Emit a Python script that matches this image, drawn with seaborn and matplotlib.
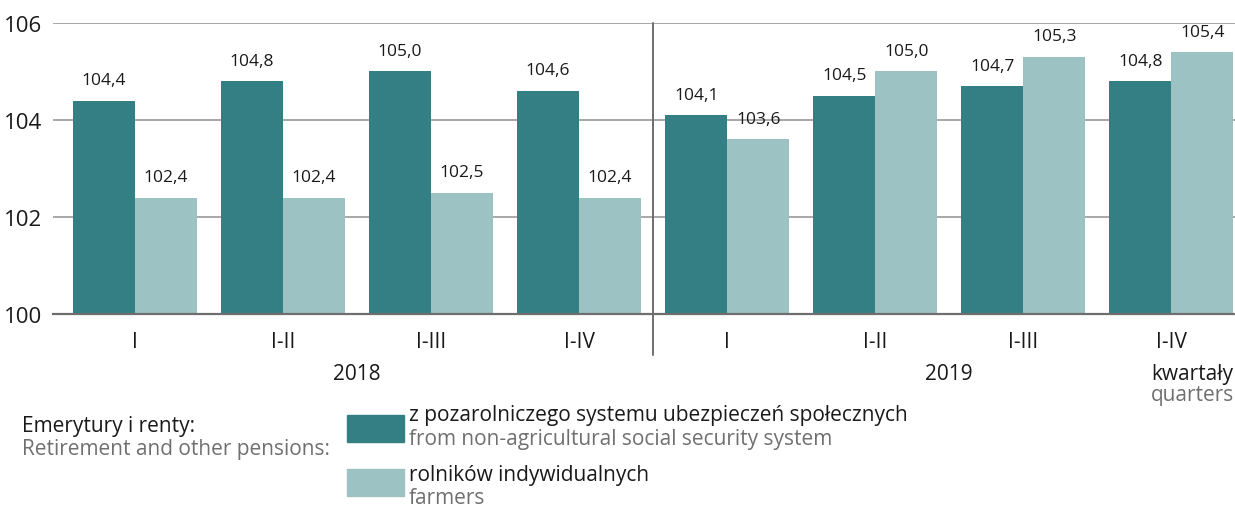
import matplotlib
matplotlib.use("Agg")
import matplotlib.pyplot as plt
import seaborn as sns
import pandas as pd
from matplotlib.patches import Rectangle

# Pension indices, corresponding period of previous year = 100
quarters = ["I", "I-II", "I-III", "I-IV", "I ", "I-II ", "I-III ", "I-IV "]
tick_labels = ["I", "I-II", "I-III", "I-IV", "I", "I-II", "I-III", "I-IV"]
years = ["2018", "2019"]
non_agricultural = [104.4, 104.8, 105.0, 104.6, 104.1, 104.5, 104.7, 104.8]
farmers = [102.4, 102.4, 102.5, 102.4, 103.6, 105.0, 105.3, 105.4]
series_pl = ["z pozarolniczego systemu ubezpieczeń społecznych", "rolników indywidualnych"]
series_en = ["from non-agricultural social security system", "farmers"]

DARK = "#347f83"
LIGHT = "#9cc2c3"
GRID = "#9a9a9a"
TEXT = "#1a1a1a"
SUB = "#707070"
FS = 15

sns.set_theme(style="white")
plt.rcParams["font.family"] = ["Open Sans", "DejaVu Sans"]

df = pd.DataFrame({
    "okres": quarters * 2,
    "wartosc": non_agricultural + farmers,
    "seria": [series_pl[0]] * len(quarters) + [series_pl[1]] * len(quarters),
})

fig = plt.figure(figsize=(12.35, 5.10), dpi=100)
ax = fig.add_axes([0.0429, 0.3824, 0.9571, 0.5706])

sns.barplot(data=df, x="okres", y="wartosc", hue="seria", order=quarters,
            hue_order=series_pl, palette=[DARK, LIGHT], width=0.838, gap=0,
            saturation=1, errorbar=None, legend=False, ax=ax, zorder=3,
            linewidth=0)

ax.set_ylim(100, 106)
ax.set_xlim(-0.554, 7.43)
ax.set_yticks([100, 102, 104, 106])
ax.set_yticklabels(["100", "102", "104", "106"])
ax.set_xticks(range(len(quarters)))
ax.set_xticklabels(tick_labels)
ax.set_xlabel("")
ax.set_ylabel("")

for y in [102, 104, 106]:
    ax.axhline(y, color=GRID, lw=1.2, zorder=1)

for s in ["top", "right", "left"]:
    ax.spines[s].set_visible(False)
ax.spines["bottom"].set_color("#6e6e6e")
ax.spines["bottom"].set_linewidth(1.6)
ax.spines["bottom"].set_zorder(4)

ax.tick_params(axis="y", length=0, pad=8, labelsize=16, colors=TEXT)
ax.tick_params(axis="x", length=0, pad=12, labelsize=FS, colors=TEXT)

# value labels with decimal comma
for cont in ax.containers:
    ax.bar_label(cont, labels=[f"{v:.1f}".replace(".", ",") for v in cont.datavalues],
                 padding=9, fontsize=12.5, color=TEXT, zorder=5)

# separator between years
ax.plot([3.5, 3.5], [106, 99.15], color="#6e6e6e", lw=1.4, clip_on=False, zorder=4)

# year labels
ax.text(1.5, 98.78, years[0], ha="center", va="center", fontsize=FS, color=TEXT)
ax.text(5.5, 98.78, years[1], ha="center", va="center", fontsize=FS, color=TEXT)
ax.text(7.14, 98.78, "kwartały", ha="center", va="center", fontsize=FS, color=TEXT)
ax.text(7.14, 98.33, "quarters", ha="center", va="center", fontsize=FS, color=SUB)

# legend
fig.text(22 / 1235, 1 - 427 / 510, "Emerytury i renty:", fontsize=FS, color=TEXT, va="center")
fig.text(22 / 1235, 1 - 450 / 510, "Retirement and other pensions:", fontsize=FS, color=SUB, va="center")

fig.patches.append(Rectangle((347 / 1235, 1 - 443 / 510), 57 / 1235, 27 / 510,
                             transform=fig.transFigure, color=DARK, figure=fig))
fig.patches.append(Rectangle((347 / 1235, 1 - 497 / 510), 57 / 1235, 27 / 510,
                             transform=fig.transFigure, color=LIGHT, figure=fig))
fig.text(409 / 1235, 1 - 416 / 510, series_pl[0], fontsize=FS, color=TEXT, va="center")
fig.text(409 / 1235, 1 - 440 / 510, series_en[0], fontsize=FS, color=SUB, va="center")
fig.text(409 / 1235, 1 - 476 / 510, series_pl[1], fontsize=FS, color=TEXT, va="center")
fig.text(409 / 1235, 1 - 499 / 510, series_en[1], fontsize=FS, color=SUB, va="center")

fig.savefig("out.png", dpi=100, facecolor="white")
